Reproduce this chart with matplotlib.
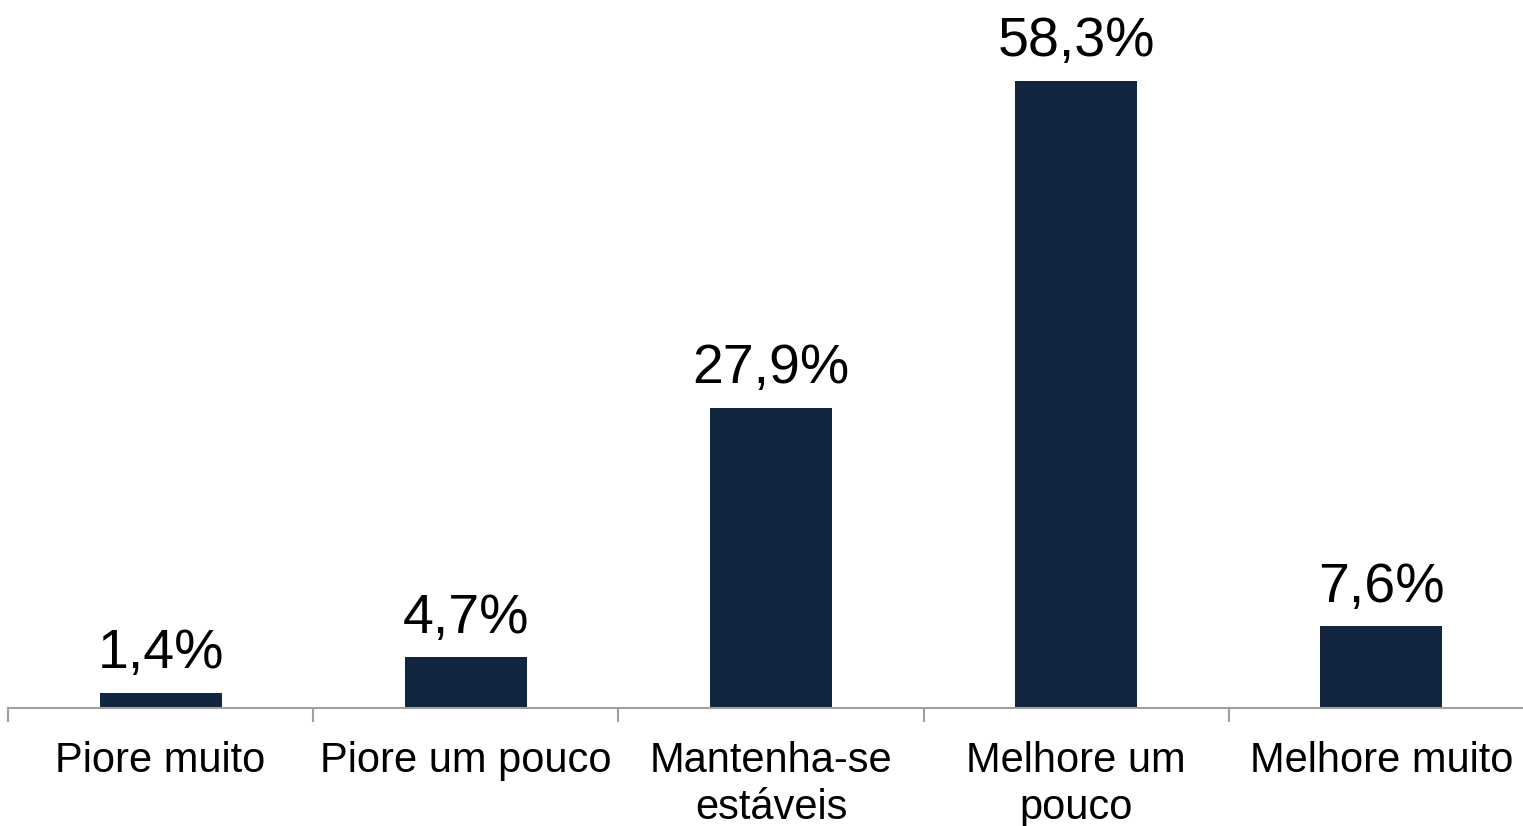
import numpy as np
import matplotlib.pyplot as plt

categories = ["Piore muito", "Piore um pouco", "Mantenha-se\nestáveis", "Melhore um\npouco", "Melhore muito"]
values = [1.4, 4.7, 27.9, 58.3, 7.6]
labels = ["1,4%", "4,7%", "27,9%", "58,3%", "7,6%"]

plt.rcParams['font.family'] = ['Liberation Sans', 'DejaVu Sans']

fig = plt.figure(figsize=(15.23, 8.26), dpi=100)
# axes from x=8px to ~1534px, y from 708px (baseline) to top
ax = fig.add_axes([8 / 1523, (826 - 708) / 826, 1526 / 1523, 708 / 826])

x = np.arange(len(categories))
ax.bar(x, values, width=0.4, color="#12263f")

for xi, v, lab in zip(x, values, labels):
    ax.annotate(lab, (xi, v), xytext=(0, 9), textcoords="offset points",
                ha="center", va="bottom", fontsize=40)

ax.set_xlim(-0.5, len(categories) - 0.5)
ax.set_ylim(0, 708 / 10.755)

ax.set_xticks(x)
ax.set_xticklabels(categories, fontsize=30, linespacing=1.2)
ax.tick_params(axis="x", which="major", length=0, pad=24)
ax.set_xticks(np.arange(len(categories) + 1) - 0.5, minor=True)
ax.tick_params(axis="x", which="minor", length=10, width=1.5, color="#a0a0a0")

ax.set_yticks([])
for s in ["top", "right", "left"]:
    ax.spines[s].set_visible(False)
ax.spines["bottom"].set_color("#a0a0a0")
ax.spines["bottom"].set_linewidth(1.5)

fig.savefig("out.png", dpi=100)
